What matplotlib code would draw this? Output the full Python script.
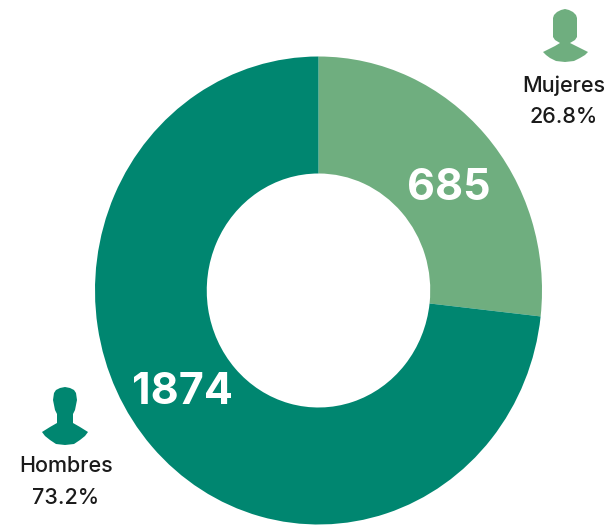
import matplotlib
matplotlib.use('Agg')
import matplotlib.pyplot as plt
from matplotlib.patches import Polygon

labels = ['Mujeres', 'Hombres']
values = [685, 1874]
pcts = ['26.8%', '73.2%']
colors = ['#6fae7f', '#008670']

plt.rcParams['font.family'] = ['Inter', 'DejaVu Sans']

fig = plt.figure(figsize=(6.16, 5.25), dpi=100)

# pie is slightly stretched vertically in the original
ax = fig.add_axes([95 / 616, 0.5 / 525, 447 / 616, 468 / 525])
ax.pie(values, colors=colors, startangle=90, counterclock=False, radius=1,
       wedgeprops=dict(width=0.5, linewidth=0))
ax.set_aspect('auto')
ax.set_xlim(-1, 1)
ax.set_ylim(-1, 1)

# overlay in pixel coords for the icons and text
ov = fig.add_axes([0, 0, 1, 1])
ov.set_xlim(0, 616)
ov.set_ylim(525, 0)
ov.axis('off')
ov.patch.set_alpha(0)

woman = [(553, 18), (554, 15), (557, 12), (561, 10), (565, 9), (569, 10), (573, 12), (576, 15), (577, 18),
         (577, 37), (575, 40), (570, 43), (576, 46), (582, 49), (588, 52), (585, 55), (580, 58),
         (574, 61), (565, 62), (556, 61), (550, 58), (546, 55), (543, 52), (549, 49), (555, 46), (560, 43),
         (555, 40), (553, 37)]
man = [(54, 393), (56, 390), (60, 388), (65, 387), (70, 388), (74, 390), (76, 393), (77, 400),
       (76, 405), (75, 410), (73, 414), (73, 423), (80, 427), (88, 432), (85, 436), (80, 440),
       (74, 444), (65, 445), (56, 444), (50, 440), (45, 436), (42, 432), (50, 427), (57, 423), (57, 414),
       (55, 410), (54, 405), (53, 400)]
ov.add_patch(Polygon(woman, closed=True, fc=colors[0], ec='none'))
ov.add_patch(Polygon(man, closed=True, fc=colors[1], ec='none'))

ov.text(564, 86, labels[0], ha='center', va='center', fontsize=15.5, fontweight=500, color='#1a1a1a')
ov.text(564, 117, pcts[0], ha='center', va='center', fontsize=15.5, fontweight=500, color='#1a1a1a')
ov.text(66, 466, labels[1], ha='center', va='center', fontsize=15.5, fontweight=500, color='#1a1a1a')
ov.text(66, 498, pcts[1], ha='center', va='center', fontsize=15.5, fontweight=500, color='#1a1a1a')

ov.text(449, 189, str(values[0]), ha='center', va='center', fontsize=31, fontweight='bold', color='white')
ov.text(182, 392, str(values[1]), ha='center', va='center', fontsize=31, fontweight='bold', color='white')

fig.savefig('out.png', dpi=100)
